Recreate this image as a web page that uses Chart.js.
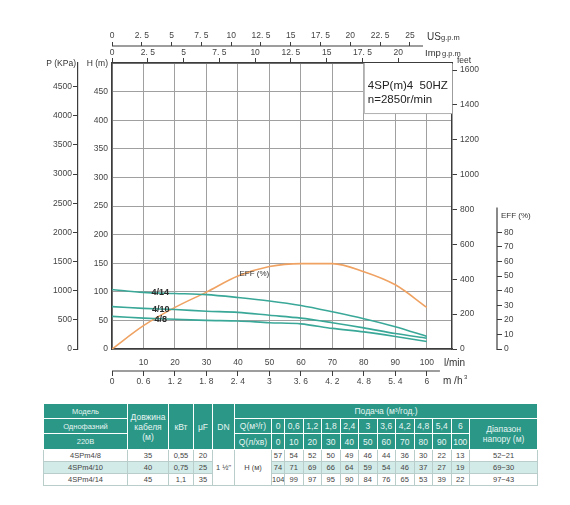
<!DOCTYPE html>
<html>
<head>
<meta charset="utf-8">
<script src="https://cdn.jsdelivr.net/npm/chart.js@4.4.0/dist/chart.umd.min.js"></script>
<style>
  html, body { margin: 0; padding: 0; background: #fff; }
  body { width: 570px; height: 505px; position: relative; overflow: hidden;
         font-family: 'Liberation Sans', Arial, sans-serif; }
  #chart { position: absolute; left: 0; top: 0; }
  #spec { position: absolute; left: 43px; top: 403px; width: 493px;
          border-collapse: collapse; table-layout: fixed; font-size: 7.5px; }
  #spec td { padding: 0; text-align: center; vertical-align: middle;
             white-space: nowrap; overflow: hidden; }
  #spec thead td { background: #2a9787; color: #e8f5f2; font-size: 8.5px;
                   border: 1px solid rgba(255,255,255,0.45); }
  #spec thead td.sm { font-size: 7.5px; }
  #spec tbody td { color: #444; border: 1px solid #b9cdca; }
  #spec tbody tr.alt td.row { background: #d3ebe8; }
  #spec .h1 td, #spec .h2 td { height: 14px; }
  #spec .h3 td { height: 15px; }
  #spec tbody tr { height: 12px; }
</style>
</head>
<body>
<canvas id="chart" width="570" height="400"></canvas>
<table id="spec"></table>
<script>
'use strict';

// flow points, l/min
var FLOW = [0, 10, 20, 30, 40, 50, 60, 70, 80, 90, 100];
var M3H_LABELS = ['0', '0. 6', '1. 2', '1. 8', '2. 4', '3', '3. 6', '4. 2', '4. 8', '5. 4', '6'];
var US_TICKS = [0, 2.5, 5, 7.5, 10, 12.5, 15, 17.5, 20, 22.5, 25];
var IMP_TICKS = [0, 2.5, 5, 7.5, 10, 12.5, 15, 17.5, 20];
var H_TICKS = [0, 50, 100, 150, 200, 250, 300, 350, 400, 450, 500];
var P_TICKS = [0, 500, 1000, 1500, 2000, 2500, 3000, 3500, 4000, 4500];
var FEET_TICKS = [0, 200, 400, 600, 800, 1000, 1200, 1400, 1600];
var EFF_TICKS = [0, 10, 20, 30, 40, 50, 60, 70, 80];

// head, m
var H_4_8 = [57, 54, 52, 50, 49, 46, 44, 36, 30, 22, 13];
var H_4_10 = [74, 71, 69, 66, 64, 59, 54, 46, 37, 27, 19];
var H_4_14 = [104, 99, 97, 95, 90, 84, 76, 65, 53, 39, 22];
// efficiency, %
var EFF_PCT = [0, 16, 28.5, 39, 50, 56.5, 58.5, 58.5, 53, 44, 28.5];

// table
var MODELS = ['4SPm4/8', '4SPm4/10', '4SPm4/14'];
var CABLE = ['35', '40', '45'];
var KW = ['0,55', '0,75', '1,1'];
var UF = ['20', '25', '35'];
var Q_M3H_TABLE = ['0', '0,6', '1,2', '1,8', '2,4', '3', '3,6', '4,2', '4,8', '5,4', '6'];
var HEAD_RANGE = ['52~21', '69~30', '97~43'];

var TEAL = '#3aa898',
	ORANGE = '#efa262',
	GRID = '#a0a0a0',
	FRAME = '#3c3c3c',
	LABEL = '#444',
	FONT = "'Liberation Sans', Arial, sans-serif";

var M_TO_KPA = 9.80665,
	M_TO_FT = 1 / 0.3048,
	LMIN_TO_US = 0.264172,
	LMIN_TO_IMP = 0.219969,
	X_MAX = 108,
	H_MAX = 500;

function points(ys) {
	return FLOW.map(function (q, i) { return { x: q, y: ys[i] }; });
}

function fixedTicks(values) {
	return function (scale) {
		scale.ticks = values.map(function (v) { return { value: v }; });
	};
}

function plain(v) {
	return String(v);
}

function dotted(v) {
	return String(v).replace('.', '. ');
}

var tickFont = { family: FONT, size: 8.5 };

function text(ctx, s, x, y, size, align, opts) {
	opts = opts || {};
	ctx.save();
	ctx.font = (opts.bold ? 'bold ' : '') + size + 'px ' + FONT;
	ctx.fillStyle = opts.color || '#333';
	ctx.textAlign = align || 'left';
	ctx.textBaseline = 'middle';
	ctx.fillText(s, x, y);
	ctx.restore();
}

var overlay = {
	id: 'overlay',
	beforeDatasetsDraw: function (chart) {
		var ctx = chart.ctx,
			x = chart.scales.x,
			y = chart.scales.y;
		// model box in the upper right corner
		var l = x.getPixelForValue(80),
			t = chart.chartArea.top,
			r = chart.chartArea.right,
			b = y.getPixelForValue(412.5);
		ctx.save();
		ctx.fillStyle = '#fff';
		ctx.fillRect(l, t, r - l, b - t);
		ctx.strokeStyle = '#b0b0b0';
		ctx.lineWidth = 1;
		ctx.beginPath();
		ctx.moveTo(l + 0.5, t);
		ctx.lineTo(l + 0.5, b + 0.5);
		ctx.lineTo(r, b + 0.5);
		ctx.stroke();
		ctx.restore();
		text(ctx, '4SP(m)4  50HZ', l + 4, t + 23, 11.5, 'left', { color: '#222' });
		text(ctx, 'n=2850r/min', l + 4, t + 37, 11.5, 'left', { color: '#222' });
	},
	afterDraw: function (chart) {
		var ctx = chart.ctx,
			s = chart.scales,
			area = chart.chartArea;

		// short EFF axis line and shortened outer axis lines
		ctx.save();
		ctx.strokeStyle = FRAME;
		ctx.lineWidth = 1.2;
		ctx.beginPath();
		ctx.moveTo(s.eff.left, s.eff.getPixelForValue(0) + 1);
		ctx.lineTo(s.eff.left, s.eff.getPixelForValue(97));
		ctx.moveTo(s.us.left, s.us.bottom);
		ctx.lineTo(s.us.getPixelForValue(26.1), s.us.bottom);
		ctx.moveTo(s.x2.left, s.x2.top);
		ctx.lineTo(s.x2.getPixelForValue(6.25), s.x2.top);
		ctx.stroke();
		ctx.restore();

		// axis titles
		text(ctx, 'P (KPa)', s.p.right - 2, area.top + 1, 8.5, 'right');
		text(ctx, 'H (m)', area.left - 4, area.top + 1, 8.5, 'right');
		text(ctx, 'feet', area.right + 5, area.top - 2, 8.5, 'left');
		text(ctx, 'EFF (%)', s.eff.left + 4, s.eff.getPixelForValue(91), 8, 'left');
		text(ctx, 'US', area.right - 25, s.us.top + 9, 10, 'left');
		text(ctx, 'g.p.m', area.right - 11, s.us.top + 10, 7.5, 'left');
		text(ctx, 'Imp', area.right - 27, s.imp.top + 7, 9.5, 'left');
		text(ctx, 'g.p.m', area.right - 10, s.imp.top + 8, 7.5, 'left');
		text(ctx, 'l/min', area.right - 8, s.x.top + 14, 10, 'left');
		text(ctx, 'm /h', area.right - 9, s.x2.top + 10, 10, 'left');
		text(ctx, '3', area.right + 12, s.x2.top + 6, 6, 'left');

		// curve labels
		var x = s.x, y = s.y;
		text(ctx, '4/14', x.getPixelForValue(15.3), y.getPixelForValue(98), 9, 'center', { bold: true, color: '#2a2a2a' });
		text(ctx, '4/10', x.getPixelForValue(15.5), y.getPixelForValue(69), 9, 'center', { bold: true, color: '#2a2a2a' });
		text(ctx, '4/8', x.getPixelForValue(15.5), y.getPixelForValue(51), 9, 'center', { bold: true, color: '#2a2a2a' });
		text(ctx, 'EFF (%)', x.getPixelForValue(40.5), y.getPixelForValue(131), 8, 'left', { color: '#333' });
	}
};

function sideAxis(position, weight, size, extra) {
	var horizontal = position === 'top' || position === 'bottom';
	var base = {
		type: 'linear',
		position: position,
		weight: weight,
		grid: { drawOnChartArea: false, tickLength: 5, color: FRAME, lineWidth: 1 },
		border: { color: FRAME, width: 1.2 },
		ticks: { font: tickFont, color: LABEL, padding: 1, autoSkip: false, maxRotation: 0, callback: plain },
		afterFit: function (scale) {
			if (horizontal) {
				scale.height = size;
			} else {
				scale.width = size;
			}
		}
	};
	return Chart.helpers.merge(base, extra);
}

new Chart(document.getElementById('chart'), {
	type: 'line',
	data: {
		datasets: [
			{ label: '4/14', data: points(H_4_14), borderColor: TEAL, borderWidth: 1.6, tension: 0.3, pointRadius: 0 },
			{ label: '4/10', data: points(H_4_10), borderColor: TEAL, borderWidth: 1.6, tension: 0.3, pointRadius: 0 },
			{ label: '4/8', data: points(H_4_8), borderColor: TEAL, borderWidth: 1.6, tension: 0.3, pointRadius: 0 },
			{ label: 'EFF', data: points(EFF_PCT), yAxisID: 'eff', borderColor: ORANGE, borderWidth: 1.6,
				cubicInterpolationMode: 'monotone', pointRadius: 0 }
		]
	},
	options: {
		responsive: false,
		animation: false,
		layout: { padding: { top: 28, left: 30, right: 30, bottom: 13 } },
		plugins: { legend: { display: false }, tooltip: { enabled: false } },
		scales: {
			// l/min, frame bottom
			x: sideAxis('bottom', 0, 22, {
				min: 0, max: X_MAX,
				afterBuildTicks: fixedTicks(FLOW),
				grid: { drawOnChartArea: true, drawTicks: false, color: GRID },
				border: { width: 1.5 },
				ticks: { padding: 9, callback: function (v) { return v === 0 ? '' : String(v); } }
			}),
			// m3/h
			x2: sideAxis('bottom', 1, 16, {
				min: 0, max: X_MAX * 0.06,
				afterBuildTicks: fixedTicks(FLOW.map(function (q) { return q * 0.06; })),
				border: { display: false },
				ticks: { padding: 1, callback: function (v, i) { return M3H_LABELS[i]; } }
			}),
			imp: sideAxis('top', 0, 17, {
				min: 0, max: X_MAX * LMIN_TO_IMP,
				afterBuildTicks: fixedTicks(IMP_TICKS),
				border: { width: 1.5 },
				ticks: { padding: 0, callback: dotted }
			}),
			us: sideAxis('top', 1, 18, {
				min: 0, max: X_MAX * LMIN_TO_US,
				afterBuildTicks: fixedTicks(US_TICKS),
				grid: { tickLength: 4 },
				border: { display: false },
				ticks: { padding: 1, callback: dotted }
			}),
			// head, m
			y: sideAxis('left', 0, 34, {
				min: 0, max: H_MAX,
				afterBuildTicks: fixedTicks(H_TICKS),
				grid: { drawOnChartArea: true, drawTicks: false, color: GRID },
				border: { width: 1.5 },
				ticks: { padding: 4, callback: function (v) { return v === H_MAX ? '' : String(v); } }
			}),
			p: sideAxis('left', 1, 48, {
				min: 0, max: H_MAX * M_TO_KPA,
				afterBuildTicks: fixedTicks(P_TICKS)
			}),
			ft: sideAxis('right', 0, 45, {
				min: 0, max: H_MAX * M_TO_FT,
				afterBuildTicks: fixedTicks(FEET_TICKS),
				border: { width: 1.5 },
				ticks: { padding: 3 }
			}),
			eff: sideAxis('right', 1, 43, {
				min: 0, max: 196,
				afterBuildTicks: fixedTicks(EFF_TICKS),
				border: { display: false },
				ticks: { padding: 2 }
			})
		}
	},
	plugins: [overlay]
});

// spec table under the chart
(function () {
	var widths = [84, 41, 25, 19, 22, 37, 13, 18.5, 18.5, 18.5, 18.5, 18.5, 18.5, 18.5, 18.5, 18.5, 18.5, 68];
	var heads = [H_4_8, H_4_10, H_4_14];
	var html = '<colgroup>' + widths.map(function (w) { return '<col style="width:' + w + 'px">'; }).join('') + '</colgroup>';
	html += '<thead>';
	html += '<tr class="h1"><td class="sm">Модель</td><td rowspan="3">Довжина<br>кабеля<br>(м)</td>' +
		'<td rowspan="3">кВт</td><td rowspan="3">μF</td>' +
		'<td rowspan="3">DN</td><td colspan="13">Подача (м³/год.)</td></tr>';
	html += '<tr class="h2"><td class="sm">Однофазний</td><td>Q(м³/г)</td>' +
		Q_M3H_TABLE.map(function (q) { return '<td>' + q + '</td>'; }).join('') +
		'<td rowspan="2">Діапазон<br>напору (м)</td></tr>';
	html += '<tr class="h3"><td class="sm">220В</td><td>Q(л/хв)</td>' +
		FLOW.map(function (q) { return '<td>' + q + '</td>'; }).join('') + '</tr>';
	html += '</thead><tbody>';
	MODELS.forEach(function (m, r) {
		html += '<tr class="' + (r === 1 ? 'alt' : '') + '">';
		html += '<td class="row">' + m + '</td><td class="row">' + CABLE[r] + '</td><td class="row">' + KW[r] +
			'</td><td class="row">' + UF[r] + '</td>';
		if (r === 0) {
			html += '<td rowspan="3">1 ½"</td><td rowspan="3">H (м)</td>';
		}
		html += heads[r].map(function (h) { return '<td class="row">' + h + '</td>'; }).join('');
		html += '<td class="row">' + HEAD_RANGE[r] + '</td></tr>';
	});
	html += '</tbody>';
	document.getElementById('spec').innerHTML = html;
})();
</script>
</body>
</html>
